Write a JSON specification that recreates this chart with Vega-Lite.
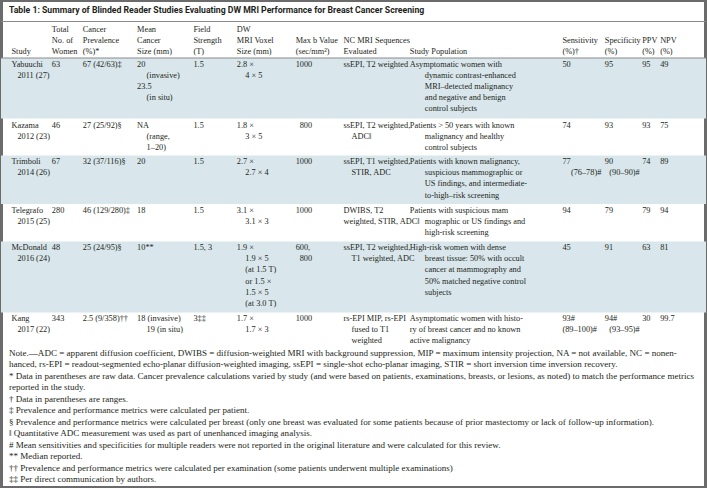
{
  "$schema": "https://vega.github.io/schema/vega-lite/v6.json",
  "autosize": {"type": "fit", "contains": "padding"},
  "width": 707,
  "height": 488,
  "padding": 0,
  "background": "#ffffff",
  "config": {"view": {"stroke": "#6b6b6b", "strokeWidth": 4}},
  "datasets": {
    "cols": [
      {"col": "study", "left": 10.5, "indent": 16.5},
      {"col": "women", "left": 51, "indent": 51},
      {"col": "prev", "left": 82, "indent": 82},
      {"col": "mean", "left": 136.5, "indent": 146},
      {"col": "field", "left": 193, "indent": 193},
      {"col": "voxel", "left": 236.5, "indent": 245},
      {"col": "maxb", "left": 295.5, "indent": 299.5},
      {"col": "nc", "left": 343.5, "indent": 351.5},
      {"col": "pop", "left": 410, "indent": 425},
      {"col": "sens", "left": 563, "indent": 571.5},
      {"col": "spec", "left": 605.5, "indent": 610},
      {"col": "ppv", "left": 643, "indent": 643},
      {"col": "npv", "left": 661, "indent": 661}
    ],
    "bands": [
      {"y0": 58, "y1": 118.5},
      {"y0": 155.4, "y1": 204},
      {"y0": 241.4, "y1": 312.4}
    ],
    "rules": [{"y": 21.5}, {"y": 58}],
    "cells": [
      {"col": "women", "y": 29.5, "ind": 0, "t": "Total"},
      {"col": "prev", "y": 29.5, "ind": 0, "t": "Cancer"},
      {"col": "mean", "y": 29.5, "ind": 0, "t": "Mean"},
      {"col": "field", "y": 29.5, "ind": 0, "t": "Field"},
      {"col": "voxel", "y": 29.5, "ind": 0, "t": "DW"},
      {"col": "women", "y": 40.7, "ind": 0, "t": "No. of"},
      {"col": "prev", "y": 40.7, "ind": 0, "t": "Prevalence"},
      {"col": "mean", "y": 40.7, "ind": 0, "t": "Cancer"},
      {"col": "field", "y": 40.7, "ind": 0, "t": "Strength"},
      {"col": "voxel", "y": 40.7, "ind": 0, "t": "MRI Voxel"},
      {"col": "maxb", "y": 40.7, "ind": 0, "t": "Max b Value"},
      {"col": "nc", "y": 40.7, "ind": 0, "t": "NC MRI Sequences"},
      {"col": "sens", "y": 40.7, "ind": 0, "t": "Sensitivity"},
      {"col": "spec", "y": 40.7, "ind": 0, "t": "Specificity"},
      {"col": "ppv", "y": 40.7, "ind": 0, "t": "PPV"},
      {"col": "npv", "y": 40.7, "ind": 0, "t": "NPV"},
      {"col": "study", "y": 51.9, "ind": 0, "t": "Study"},
      {"col": "women", "y": 51.9, "ind": 0, "t": "Women"},
      {"col": "prev", "y": 51.9, "ind": 0, "t": "(%)*"},
      {"col": "mean", "y": 51.9, "ind": 0, "t": "Size (mm)"},
      {"col": "field", "y": 51.9, "ind": 0, "t": "(T)"},
      {"col": "voxel", "y": 51.9, "ind": 0, "t": "Size (mm)"},
      {"col": "maxb", "y": 51.9, "ind": 0, "t": "(sec/mm²)"},
      {"col": "nc", "y": 51.9, "ind": 0, "t": "Evaluated"},
      {"col": "pop", "y": 51.9, "ind": 0, "t": "Study Population"},
      {"col": "sens", "y": 51.9, "ind": 0, "t": "(%)†"},
      {"col": "spec", "y": 51.9, "ind": 0, "t": "(%)"},
      {"col": "ppv", "y": 51.9, "ind": 0, "t": "(%)"},
      {"col": "npv", "y": 51.9, "ind": 0, "t": "(%)"},

      {"col": "study", "y": 64.5, "ind": 0, "t": "Yabuuchi"},
      {"col": "study", "y": 75.7, "ind": 1, "t": "2011 (27)"},
      {"col": "women", "y": 64.5, "ind": 0, "t": "63"},
      {"col": "prev", "y": 64.5, "ind": 0, "t": "67 (42/63)‡"},
      {"col": "mean", "y": 64.5, "ind": 0, "t": "20"},
      {"col": "mean", "y": 75.7, "ind": 1, "t": "(invasive)"},
      {"col": "mean", "y": 86.9, "ind": 0, "t": "23.5"},
      {"col": "mean", "y": 98.1, "ind": 1, "t": "(in situ)"},
      {"col": "field", "y": 64.5, "ind": 0, "t": "1.5"},
      {"col": "voxel", "y": 64.5, "ind": 0, "t": "2.8 ×"},
      {"col": "voxel", "y": 75.7, "ind": 1, "t": "4 × 5"},
      {"col": "maxb", "y": 64.5, "ind": 0, "t": "1000"},
      {"col": "nc", "y": 64.5, "ind": 0, "t": "ssEPI, T2 weighted"},
      {"col": "pop", "y": 64.5, "ind": 0, "t": "Asymptomatic women with"},
      {"col": "pop", "y": 75.7, "ind": 1, "t": "dynamic contrast-enhanced"},
      {"col": "pop", "y": 86.9, "ind": 1, "t": "MRI–detected malignancy"},
      {"col": "pop", "y": 98.1, "ind": 1, "t": "and negative and benign"},
      {"col": "pop", "y": 109.3, "ind": 1, "t": "control subjects"},
      {"col": "sens", "y": 64.5, "ind": 0, "t": "50"},
      {"col": "spec", "y": 64.5, "ind": 0, "t": "95"},
      {"col": "ppv", "y": 64.5, "ind": 0, "t": "95"},
      {"col": "npv", "y": 64.5, "ind": 0, "t": "49"},

      {"col": "study", "y": 125.5, "ind": 0, "t": "Kazama"},
      {"col": "study", "y": 136.7, "ind": 1, "t": "2012 (23)"},
      {"col": "women", "y": 125.5, "ind": 0, "t": "46"},
      {"col": "prev", "y": 125.5, "ind": 0, "t": "27 (25/92)§"},
      {"col": "mean", "y": 125.5, "ind": 0, "t": "NA"},
      {"col": "mean", "y": 136.7, "ind": 1, "t": "(range,"},
      {"col": "mean", "y": 147.9, "ind": 1, "t": "1–20)"},
      {"col": "field", "y": 125.5, "ind": 0, "t": "1.5"},
      {"col": "voxel", "y": 125.5, "ind": 0, "t": "1.8 ×"},
      {"col": "voxel", "y": 136.7, "ind": 1, "t": "3 × 5"},
      {"col": "maxb", "y": 125.5, "ind": 1, "t": "800"},
      {"col": "nc", "y": 125.5, "ind": 0, "t": "ssEPI, T2 weighted,"},
      {"col": "nc", "y": 136.7, "ind": 1, "t": "ADC‖"},
      {"col": "pop", "y": 125.5, "ind": 0, "t": "Patients > 50 years with known"},
      {"col": "pop", "y": 136.7, "ind": 1, "t": "malignancy and healthy"},
      {"col": "pop", "y": 147.9, "ind": 1, "t": "control subjects"},
      {"col": "sens", "y": 125.5, "ind": 0, "t": "74"},
      {"col": "spec", "y": 125.5, "ind": 0, "t": "93"},
      {"col": "ppv", "y": 125.5, "ind": 0, "t": "93"},
      {"col": "npv", "y": 125.5, "ind": 0, "t": "75"},

      {"col": "study", "y": 161.9, "ind": 0, "t": "Trimboli"},
      {"col": "study", "y": 173.1, "ind": 1, "t": "2014 (26)"},
      {"col": "women", "y": 161.9, "ind": 0, "t": "67"},
      {"col": "prev", "y": 161.9, "ind": 0, "t": "32 (37/116)§"},
      {"col": "mean", "y": 161.9, "ind": 0, "t": "20"},
      {"col": "field", "y": 161.9, "ind": 0, "t": "1.5"},
      {"col": "voxel", "y": 161.9, "ind": 0, "t": "2.7 ×"},
      {"col": "voxel", "y": 173.1, "ind": 1, "t": "2.7 × 4"},
      {"col": "maxb", "y": 161.9, "ind": 0, "t": "1000"},
      {"col": "nc", "y": 161.9, "ind": 0, "t": "ssEPI, T1 weighted,"},
      {"col": "nc", "y": 173.1, "ind": 1, "t": "STIR, ADC"},
      {"col": "pop", "y": 161.9, "ind": 0, "t": "Patients with known malignancy,"},
      {"col": "pop", "y": 173.1, "ind": 1, "t": "suspicious mammographic or"},
      {"col": "pop", "y": 184.3, "ind": 1, "t": "US findings, and intermediate-"},
      {"col": "pop", "y": 195.5, "ind": 1, "t": "to-high–risk screening"},
      {"col": "sens", "y": 161.9, "ind": 0, "t": "77"},
      {"col": "sens", "y": 173.1, "ind": 1, "t": "(76–78)#"},
      {"col": "spec", "y": 161.9, "ind": 0, "t": "90"},
      {"col": "spec", "y": 173.1, "ind": 1, "t": "(90–90)#"},
      {"col": "ppv", "y": 161.9, "ind": 0, "t": "74"},
      {"col": "npv", "y": 161.9, "ind": 0, "t": "89"},

      {"col": "study", "y": 210.5, "ind": 0, "t": "Telegrafo"},
      {"col": "study", "y": 221.7, "ind": 1, "t": "2015 (25)"},
      {"col": "women", "y": 210.5, "ind": 0, "t": "280"},
      {"col": "prev", "y": 210.5, "ind": 0, "t": "46 (129/280)‡"},
      {"col": "mean", "y": 210.5, "ind": 0, "t": "18"},
      {"col": "field", "y": 210.5, "ind": 0, "t": "1.5"},
      {"col": "voxel", "y": 210.5, "ind": 0, "t": "3.1 ×"},
      {"col": "voxel", "y": 221.7, "ind": 1, "t": "3.1 × 3"},
      {"col": "maxb", "y": 210.5, "ind": 0, "t": "1000"},
      {"col": "nc", "y": 210.5, "ind": 0, "t": "DWIBS, T2"},
      {"col": "nc", "y": 221.7, "ind": 0, "t": "weighted, STIR, ADC‖"},
      {"col": "pop", "y": 210.5, "ind": 0, "t": "Patients with suspicious mam"},
      {"col": "pop", "y": 221.7, "ind": 1, "t": "mographic or US findings and"},
      {"col": "pop", "y": 232.9, "ind": 1, "t": "high-risk screening"},
      {"col": "sens", "y": 210.5, "ind": 0, "t": "94"},
      {"col": "spec", "y": 210.5, "ind": 0, "t": "79"},
      {"col": "ppv", "y": 210.5, "ind": 0, "t": "79"},
      {"col": "npv", "y": 210.5, "ind": 0, "t": "94"},

      {"col": "study", "y": 247.9, "ind": 0, "t": "McDonald"},
      {"col": "study", "y": 259.1, "ind": 1, "t": "2016 (24)"},
      {"col": "women", "y": 247.9, "ind": 0, "t": "48"},
      {"col": "prev", "y": 247.9, "ind": 0, "t": "25 (24/95)§"},
      {"col": "mean", "y": 247.9, "ind": 0, "t": "10**"},
      {"col": "field", "y": 247.9, "ind": 0, "t": "1.5, 3"},
      {"col": "voxel", "y": 247.9, "ind": 0, "t": "1.9 ×"},
      {"col": "voxel", "y": 259.1, "ind": 1, "t": "1.9 × 5"},
      {"col": "voxel", "y": 270.3, "ind": 1, "t": "(at 1.5 T)"},
      {"col": "voxel", "y": 281.5, "ind": 1, "t": "or 1.5 ×"},
      {"col": "voxel", "y": 292.7, "ind": 1, "t": "1.5 × 5"},
      {"col": "voxel", "y": 303.9, "ind": 1, "t": "(at 3.0 T)"},
      {"col": "maxb", "y": 247.9, "ind": 0, "t": "600,"},
      {"col": "maxb", "y": 259.1, "ind": 1, "t": "800"},
      {"col": "nc", "y": 247.9, "ind": 0, "t": "ssEPI, T2 weighted,"},
      {"col": "nc", "y": 259.1, "ind": 1, "t": "T1 weighted, ADC"},
      {"col": "pop", "y": 247.9, "ind": 0, "t": "High-risk women with dense"},
      {"col": "pop", "y": 259.1, "ind": 1, "t": "breast tissue: 50% with occult"},
      {"col": "pop", "y": 270.3, "ind": 1, "t": "cancer at mammography and"},
      {"col": "pop", "y": 281.5, "ind": 1, "t": "50% matched negative control"},
      {"col": "pop", "y": 292.7, "ind": 1, "t": "subjects"},
      {"col": "sens", "y": 247.9, "ind": 0, "t": "45"},
      {"col": "spec", "y": 247.9, "ind": 0, "t": "91"},
      {"col": "ppv", "y": 247.9, "ind": 0, "t": "63"},
      {"col": "npv", "y": 247.9, "ind": 0, "t": "81"},

      {"col": "study", "y": 318.9, "ind": 0, "t": "Kang"},
      {"col": "study", "y": 330.1, "ind": 1, "t": "2017 (22)"},
      {"col": "women", "y": 318.9, "ind": 0, "t": "343"},
      {"col": "prev", "y": 318.9, "ind": 0, "t": "2.5 (9/358)††"},
      {"col": "mean", "y": 318.9, "ind": 0, "t": "18 (invasive)"},
      {"col": "mean", "y": 330.1, "ind": 1, "t": "19 (in situ)"},
      {"col": "field", "y": 318.9, "ind": 0, "t": "3‡‡"},
      {"col": "voxel", "y": 318.9, "ind": 0, "t": "1.7 ×"},
      {"col": "voxel", "y": 330.1, "ind": 1, "t": "1.7 × 3"},
      {"col": "maxb", "y": 318.9, "ind": 0, "t": "1000"},
      {"col": "nc", "y": 318.9, "ind": 0, "t": "rs-EPI MIP, rs-EPI"},
      {"col": "nc", "y": 330.1, "ind": 1, "t": "fused to T1"},
      {"col": "nc", "y": 341.3, "ind": 1, "t": "weighted"},
      {"col": "pop", "y": 318.9, "ind": 0, "t": "Asymptomatic women with histo-"},
      {"col": "pop", "y": 330.1, "ind": 0, "t": "ry of breast cancer and no known"},
      {"col": "pop", "y": 341.3, "ind": 0, "t": "active malignancy"},
      {"col": "sens", "y": 318.9, "ind": 0, "t": "93#"},
      {"col": "sens", "y": 330.1, "ind": 0, "t": "(89–100)#"},
      {"col": "spec", "y": 318.9, "ind": 0, "t": "94#"},
      {"col": "spec", "y": 330.1, "ind": 1, "t": "(93–95)#"},
      {"col": "ppv", "y": 318.9, "ind": 0, "t": "30"},
      {"col": "npv", "y": 318.9, "ind": 0, "t": "99.7"}
    ],
    "notes": [
      {"y": 352.5, "t": "Note.—ADC = apparent diffusion coefficient, DWIBS = diffusion-weighted MRI with background suppression, MIP = maximum intensity projection, NA = not available, NC = nonen-"},
      {"y": 364.0, "t": "hanced, rs-EPI = readout-segmented echo-planar diffusion-weighted imaging, ssEPI = single-shot echo-planar imaging, STIR = short inversion time inversion recovery."},
      {"y": 375.5, "t": "* Data in parentheses are raw data. Cancer prevalence calculations varied by study (and were based on patients, examinations, breasts, or lesions, as noted) to match the performance metrics"},
      {"y": 387.0, "t": "reported in the study."},
      {"y": 398.5, "t": "† Data in parentheses are ranges."},
      {"y": 410.0, "t": "‡ Prevalence and performance metrics were calculated per patient."},
      {"y": 421.5, "t": "§ Prevalence and performance metrics were calculated per breast (only one breast was evaluated for some patients because of prior mastectomy or lack of follow-up information)."},
      {"y": 433.0, "t": "‖ Quantitative ADC measurement was used as part of unenhanced imaging analysis."},
      {"y": 444.5, "t": "# Mean sensitivities and specificities for multiple readers were not reported in the original literature and were calculated for this review."},
      {"y": 456.0, "t": "** Median reported."},
      {"y": 467.5, "t": "†† Prevalence and performance metrics were calculated per examination (some patients underwent multiple examinations)"},
      {"y": 479.0, "t": "‡‡ Per direct communication by authors."}
    ],
    "title": [{"t": "Table 1: Summary of Blinded Reader Studies Evaluating DW MRI Performance for Breast Cancer Screening"}]
  },
  "layer": [
    {
      "data": {"name": "bands"},
      "mark": {"type": "rect", "color": "#d9e7ec"},
      "encoding": {
        "y": {"field": "y0", "type": "quantitative", "scale": {"domain": [0, 488], "reverse": true, "nice": false, "zero": false}, "axis": null},
        "y2": {"field": "y1"}
      }
    },
    {
      "data": {"name": "rules"},
      "mark": {"type": "rule", "color": "#8a8a8a", "strokeWidth": 1},
      "encoding": {
        "y": {"field": "y", "type": "quantitative", "axis": null}
      }
    },
    {
      "data": {"name": "title"},
      "mark": {"type": "text", "font": "Roboto", "fontWeight": "bold", "fontSize": 8.7, "align": "left", "baseline": "middle", "color": "#231f20"},
      "encoding": {
        "x": {"datum": 8, "type": "quantitative", "scale": {"domain": [0, 707], "nice": false, "zero": false}, "axis": null},
        "y": {"datum": 10, "type": "quantitative"},
        "text": {"field": "t"}
      }
    },
    {
      "data": {"name": "cells"},
      "transform": [
        {"filter": "datum.ind == 0"},
        {"lookup": "col", "from": {"data": {"name": "cols"}, "key": "col", "fields": ["left", "indent"]}}
      ],
      "mark": {"type": "text", "font": "Liberation Serif", "fontSize": 8.3, "align": "left", "baseline": "middle", "color": "#231f20"},
      "encoding": {
        "x": {"field": "left", "type": "quantitative", "axis": null},
        "y": {"field": "y", "type": "quantitative"},
        "text": {"field": "t"}
      }
    },
    {
      "data": {"name": "cells"},
      "transform": [
        {"filter": "datum.ind == 1"},
        {"lookup": "col", "from": {"data": {"name": "cols"}, "key": "col", "fields": ["left", "indent"]}}
      ],
      "mark": {"type": "text", "font": "Liberation Serif", "fontSize": 8.3, "align": "left", "baseline": "middle", "color": "#231f20"},
      "encoding": {
        "x": {"field": "indent", "type": "quantitative", "axis": null},
        "y": {"field": "y", "type": "quantitative"},
        "text": {"field": "t"}
      }
    },
    {
      "data": {"name": "notes"},
      "mark": {"type": "text", "font": "Liberation Serif", "fontSize": 9.05, "align": "left", "baseline": "middle", "color": "#231f20"},
      "encoding": {
        "x": {"datum": 8, "type": "quantitative"},
        "y": {"field": "y", "type": "quantitative"},
        "text": {"field": "t"}
      }
    }
  ]
}
